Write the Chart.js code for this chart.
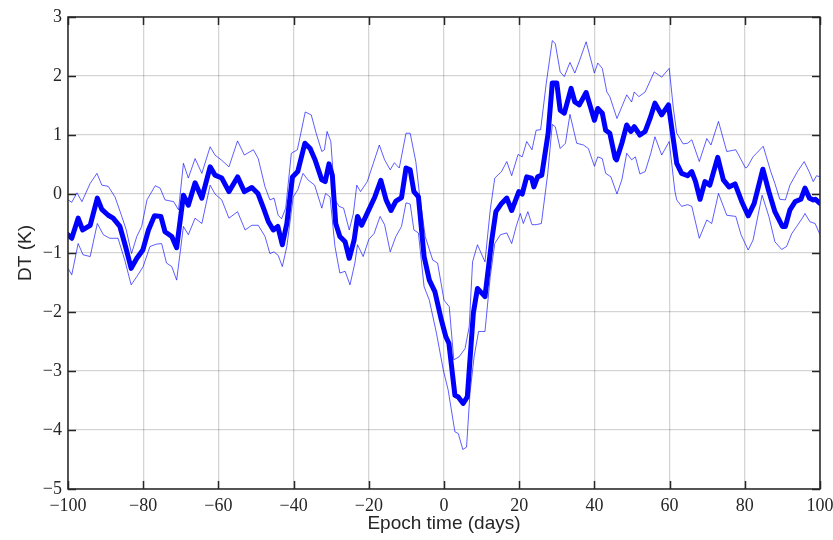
<!DOCTYPE html>
<html>
<head>
<meta charset="utf-8">
<script src="https://cdn.jsdelivr.net/npm/chart.js@4/dist/chart.umd.min.js"></script>
<style>
  html, body { margin: 0; padding: 0; background: #ffffff; }
  #wrap { width: 833px; height: 540px; }
</style>
</head>
<body>
<div id="wrap"><canvas id="c" width="833" height="540"></canvas></div>
<script>
// Tick positions for both axes
const xTickValues = [-100, -80, -60, -40, -20, 0, 20, 40, 60, 80, 100];
const yTickValues = [-5, -4, -3, -2, -1, 0, 1, 2, 3];

// Mean temperature difference (thick line)
const meanDays = [
  -100, -99, -97.3, -96.1, -94.1, -92.2, -91, -89.3, -88, -86.2,
  -84.7, -83.2, -81.7, -80.1, -78.6, -77, -75.3, -74.2, -72.4, -71.1,
  -69.3, -68, -66.2, -64.4, -62.2, -60.9, -59.1, -57.2, -54.9, -53.1,
  -51.1, -49.5, -48, -46.7, -45.4, -44.2, -43, -41.8, -40.3, -38.9,
  -37, -35.6, -34.3, -32.5, -31.6, -30.6, -29.7, -28.8, -27.7, -26.3,
  -25.2, -23.9, -23, -21.9, -20, -18.4, -16.8, -15.4, -14.1, -12.8,
  -11.3, -10.1, -9, -8, -6.8, -5.3, -3.9, -2.4, -0.8, 0.5,
  1.3, 2.9, 3.8, 5.1, 6.2, 7.8, 8.9, 10.9, 12.7, 13.8,
  15.3, 16.7, 18, 19.9, 20.8, 22, 23.3, 23.9, 24.9, 26,
  27.7, 28.8, 30, 30.9, 32, 33.8, 34.8, 36, 37.8, 38.8,
  40, 40.9, 42.1, 43, 44.1, 45.5, 45.9, 47.3, 48.6, 49.7,
  50.6, 52.1, 53.5, 54.8, 56.1, 57.9, 59.7, 61, 61.9, 63.2,
  64.8, 65.9, 66.9, 68.1, 69.4, 70.7, 72.8, 74.3, 75.8, 77.4,
  79.2, 80.9, 82.5, 84.8, 86.4, 88, 90, 90.8, 92, 93.4,
  94.9, 96, 97.2, 98.2, 98.8, 100
];
const meanDT = [
  -0.69, -0.75, -0.41, -0.61, -0.53, -0.07, -0.26, -0.36, -0.41, -0.55,
  -0.89, -1.26, -1.09, -0.95, -0.61, -0.37, -0.38, -0.64, -0.72, -0.91,
  -0.02, -0.19, 0.19, -0.07, 0.46, 0.32, 0.27, 0.04, 0.29, 0.04,
  0.11, 0.01, -0.24, -0.47, -0.61, -0.55, -0.86, -0.50, 0.29, 0.38,
  0.86, 0.77, 0.58, 0.24, 0.21, 0.51, 0.32, -0.50, -0.72, -0.81,
  -1.09, -0.78, -0.38, -0.53, -0.27, -0.05, 0.23, -0.10, -0.28, -0.12,
  -0.06, 0.44, 0.41, 0.04, -0.05, -1.06, -1.46, -1.66, -2.11, -2.42,
  -2.53, -3.41, -3.44, -3.55, -3.44, -2.02, -1.60, -1.74, -0.78, -0.30,
  -0.16, -0.07, -0.28, 0.04, 0.00, 0.29, 0.27, 0.12, 0.29, 0.32,
  1.03, 1.88, 1.88, 1.42, 1.37, 1.79, 1.56, 1.51, 1.72, 1.51,
  1.25, 1.45, 1.37, 1.08, 1.03, 0.61, 0.58, 0.86, 1.17, 1.06,
  1.14, 1.00, 1.06, 1.28, 1.54, 1.34, 1.51, 0.92, 0.52, 0.35,
  0.31, 0.38, 0.21, -0.09, 0.21, 0.15, 0.62, 0.24, 0.12, 0.17,
  -0.13, -0.37, -0.16, 0.42, 0.04, -0.30, -0.55, -0.55, -0.27, -0.13,
  -0.09, 0.10, -0.07, -0.10, -0.09, -0.16
];

// Upper envelope (thin line)
const upperDays = [
  -100, -99, -97.6, -96.3, -94.1, -92.3, -91, -89.3, -87.5, -85.8,
  -84.5, -83.1, -81.7, -80.4, -79, -76.8, -75.5, -74.2, -71.9, -70.6,
  -69.3, -68, -66.2, -64.4, -62.2, -60.9, -59.1, -57.2, -54.9, -53.1,
  -50.7, -49.4, -47.6, -46.3, -45.2, -44.1, -43.2, -42.1, -40.6, -39,
  -36.9, -35.3, -34, -32.5, -31.8, -31.1, -30.1, -29, -27.9, -26.7,
  -25.2, -24.1, -23.2, -22.2, -20.4, -18.8, -17.2, -15.8, -14.3, -13.2,
  -11.9, -10.1, -9, -7.5, -6.6, -5, -3, -1.7, 0, 1.4,
  2.6, 4, 5.6, 6.7, 7.6, 8.9, 10.9, 12.3, 13.5, 15.3,
  16.7, 18, 19.7, 20.8, 22, 23.4, 24.5, 25.7, 27.2, 28.8,
  29.6, 30.9, 32, 33.5, 34.8, 36.1, 37.8, 40, 40.9, 42.1,
  43.3, 44.1, 46, 47.3, 48.6, 49.9, 50.6, 51.8, 53.5, 55.9,
  57.9, 59.9, 61, 61.9, 63.6, 64.8, 65.9, 67.9, 69.9, 71,
  73, 75.2, 77.6, 80.2, 80.7, 82.2, 84.9, 86.9, 88, 89.3,
  90.8, 92, 94, 95.8, 97.1, 98.2, 99.1, 100
];
const upperDT = [
  -0.10, -0.14, 0.02, -0.13, 0.18, 0.35, 0.15, 0.13, -0.05, -0.36,
  -0.61, -1.01, -0.72, -0.55, -0.10, 0.14, 0.10, -0.10, -0.13, -0.27,
  0.52, 0.27, 0.60, 0.35, 0.80, 0.66, 0.57, 0.46, 0.90, 0.66,
  0.75, 0.60, 0.12, -0.10, -0.07, -0.36, -0.42, -0.24, 0.69, 0.75,
  1.39, 1.34, 1.03, 0.72, 0.75, 1.06, 0.89, -0.10, -0.21, -0.24,
  -0.61, -0.33, 0.15, 0.04, 0.21, 0.52, 0.83, 0.58, 0.41, 0.53,
  0.44, 1.03, 1.03, 0.55, 0.04, -0.72, -1.12, -1.17, -1.80, -1.91,
  -2.81, -2.76, -2.62, -2.25, -1.15, -0.86, -1.15, -0.27, 0.27, 0.38,
  0.55, 0.31, 0.67, 0.63, 0.89, 0.75, 1.08, 1.09, 1.88, 2.60,
  2.55, 2.07, 1.99, 2.23, 2.05, 2.27, 2.58, 2.05, 2.22, 2.13,
  1.73, 1.65, 1.28, 1.48, 1.68, 1.56, 1.73, 1.65, 1.73, 2.07,
  1.98, 2.13, 1.45, 1.03, 0.85, 0.86, 0.92, 0.55, 0.94, 0.83,
  1.23, 0.72, 0.75, 0.44, 0.46, 0.63, 0.81, 0.38, 0.18, -0.09,
  -0.10, 0.15, 0.38, 0.55, 0.38, 0.21, 0.31, 0.29
];

// Lower envelope (thin line)
const lowerDays = [
  -100, -99, -97.3, -96, -94.1, -92.2, -90.6, -88.9, -86.7, -84.9,
  -83.2, -81.7, -80, -78.2, -76.5, -75.1, -73.8, -72.4, -71.1, -69.3,
  -68, -66.2, -64.4, -62.2, -60.9, -59.1, -57.2, -54.9, -52.9, -51.1,
  -49.4, -47.6, -46.3, -45.2, -44.1, -43, -41.8, -40.1, -38.9, -37.5,
  -36.2, -34.4, -32.5, -31.5, -30.3, -29, -27.7, -26.3, -25, -23.7,
  -23, -21.5, -20, -18.6, -17, -15.8, -14.3, -12.8, -11.3, -10.1,
  -9, -8, -6.8, -5.3, -3.9, -2, -0.2, 1.1, 2.9, 3.8,
  5, 6, 6.9, 8, 9.2, 10.9, 12.3, 13.5, 15, 16.7,
  18, 19.2, 20.3, 21.1, 22.3, 23.4, 24.5, 25.9, 27.6, 28.8,
  29.6, 30.9, 32.3, 33.5, 35.3, 37.1, 38.4, 40, 40.9, 42.1,
  43, 44.4, 46, 47.3, 48.6, 49.9, 50.9, 52.1, 53.5, 55,
  56.1, 57.9, 59.9, 61.4, 61.9, 63.2, 64.8, 65.9, 67.9, 69.9,
  71.2, 73, 75.2, 77.6, 79, 80.9, 82.2, 84.6, 86.4, 88,
  89.8, 91.1, 92.5, 93.8, 95.3, 96, 97.3, 98.7, 100
];
const lowerDT = [
  -1.26, -1.37, -0.84, -1.03, -1.06, -0.50, -0.69, -0.75, -0.75, -1.12,
  -1.54, -1.40, -1.23, -0.89, -0.85, -0.84, -1.17, -1.23, -1.46, -0.55,
  -0.69, -0.41, -0.50, 0.15, 0.00, -0.10, -0.41, -0.30, -0.61, -0.53,
  -0.53, -0.72, -1.01, -0.98, -1.04, -1.23, -0.89, -0.05, 0.07, 0.35,
  0.24, 0.15, -0.24, 0.01, -0.05, -0.89, -1.34, -1.31, -1.54, -1.17,
  -0.86, -1.06, -0.77, -0.67, -0.38, -0.52, -0.98, -0.72, -0.55, -0.15,
  -0.17, -0.61, -0.66, -1.57, -1.80, -2.36, -2.98, -3.32, -4.03, -4.06,
  -4.33, -4.29, -3.38, -2.76, -2.33, -2.33, -1.40, -0.84, -0.69, -0.66,
  -0.84, -0.55, -0.33, -0.50, -0.30, -0.52, -0.52, -0.50, 0.35, 1.18,
  1.14, 0.77, 0.86, 1.35, 0.86, 0.83, 0.77, 0.47, 0.63, 0.60,
  0.35, 0.29, 0.00, 0.24, 0.69, 0.58, 0.63, 0.34, 0.38, 0.69,
  0.97, 0.66, 0.89, 0.05, -0.10, -0.21, -0.18, -0.21, -0.75, -0.44,
  -0.50, 0.01, -0.36, -0.38, -0.69, -0.95, -0.78, -0.02, -0.38, -0.81,
  -0.94, -0.89, -0.67, -0.55, -0.41, -0.33, -0.47, -0.50, -0.69
];

const xTitle = 'Epoch time (days)';
const yTitle = 'DT (K)';

const toPoints = (xs, ys) => xs.map((d, i) => ({ x: d, y: ys[i] }));
const fmtTick = v => String(v).replace('-', '\u2212');

const AXIS_COLOR = '#262626';
const GRID_COLOR = 'rgba(0,0,0,0.17)';
const TICK_FONT = { family: '"Liberation Serif", "Times New Roman", serif', size: 18 };
const TITLE_FONT = '19px "Liberation Sans", Arial, sans-serif';

// Box frame with inward tick marks on all four sides, plus axis titles
const boxAxes = {
  id: 'boxAxes',
  afterDraw(chart) {
    const { ctx, chartArea: a, scales: { x, y } } = chart;
    const len = 8;
    ctx.save();
    ctx.strokeStyle = AXIS_COLOR;
    ctx.lineWidth = 1.5;
    ctx.beginPath();
    xTickValues.forEach(v => {
      const px = Math.round(x.getPixelForValue(v)) + 0.5;
      ctx.moveTo(px, a.bottom); ctx.lineTo(px, a.bottom - len);
      ctx.moveTo(px, a.top); ctx.lineTo(px, a.top + len);
    });
    yTickValues.forEach(v => {
      const py = Math.round(y.getPixelForValue(v)) + 0.5;
      ctx.moveTo(a.left, py); ctx.lineTo(a.left + len, py);
      ctx.moveTo(a.right, py); ctx.lineTo(a.right - len, py);
    });
    ctx.stroke();
    ctx.strokeRect(a.left, a.top, a.right - a.left, a.bottom - a.top);

    ctx.fillStyle = AXIS_COLOR;
    ctx.font = TITLE_FONT;
    ctx.textAlign = 'center';
    ctx.textBaseline = 'middle';
    ctx.fillText(xTitle, (a.left + a.right) / 2, 524);
    ctx.translate(26, (a.top + a.bottom) / 2);
    ctx.rotate(-Math.PI / 2);
    ctx.fillText(yTitle, 0, 0);
    ctx.restore();
  }
};

new Chart(document.getElementById('c'), {
  type: 'line',
  data: {
    datasets: [
      {
        label: 'mean',
        data: toPoints(meanDays, meanDT),
        borderColor: '#0000ff',
        borderWidth: 5,
        borderJoinStyle: 'round',
        borderCapStyle: 'round',
        pointRadius: 0,
        tension: 0
      },
      {
        label: 'upper',
        data: toPoints(upperDays, upperDT),
        borderColor: 'rgba(0,0,255,0.8)',
        borderWidth: 0.8,
        pointRadius: 0,
        tension: 0
      },
      {
        label: 'lower',
        data: toPoints(lowerDays, lowerDT),
        borderColor: 'rgba(0,0,255,0.8)',
        borderWidth: 0.8,
        pointRadius: 0,
        tension: 0
      }
    ]
  },
  options: {
    responsive: false,
    animation: false,
    devicePixelRatio: 1,
    layout: { padding: { left: 0, right: 13, top: 17, bottom: 0 } },
    plugins: { legend: { display: false }, tooltip: { enabled: false } },
    scales: {
      x: {
        type: 'linear',
        min: -100, max: 100,
        afterBuildTicks: s => { s.ticks = xTickValues.map(v => ({ value: v })); },
        afterFit: s => { s.height = 51; s.paddingLeft = 0; s.paddingRight = 0; },
        ticks: {
          autoSkip: false, maxRotation: 0, padding: 6,
          color: AXIS_COLOR, font: TICK_FONT,
          callback: v => fmtTick(v)
        },
        grid: { color: GRID_COLOR, lineWidth: 1.3, drawTicks: false },
        border: { display: false }
      },
      y: {
        type: 'linear',
        min: -5, max: 3,
        afterBuildTicks: s => { s.ticks = yTickValues.map(v => ({ value: v })); },
        afterFit: s => { s.width = 68; s.paddingTop = 0; s.paddingBottom = 0; },
        ticks: {
          autoSkip: false, padding: 6,
          color: AXIS_COLOR, font: TICK_FONT,
          callback: v => fmtTick(v)
        },
        grid: { color: GRID_COLOR, lineWidth: 1.3, drawTicks: false },
        border: { display: false }
      }
    }
  },
  plugins: [boxAxes]
});
</script>
</body>
</html>
